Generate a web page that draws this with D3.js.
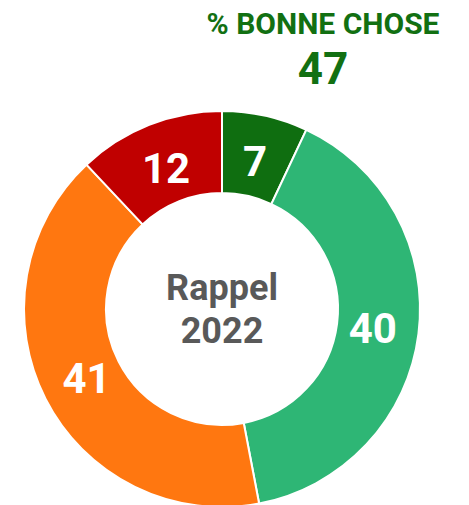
<!DOCTYPE html>
<html>
<head>
<meta charset="utf-8">
<script src="https://cdn.jsdelivr.net/npm/d3@7"></script>
<style>
  html, body { margin: 0; padding: 0; background: #fff; }
  svg { display: block; font-family: Roboto, "Noto Sans", sans-serif; }
</style>
</head>
<body>
<svg id="chart" width="469" height="505"></svg>
<script>
// slices clockwise from 12 o'clock
const categories = ['Très bonne chose', 'Plutôt bonne chose', 'Plutôt mauvaise chose', 'Très mauvaise chose']
const values = [7, 40, 41, 12]
const colors = ['#0f6e10', '#2eb675', '#ff7710', '#c00000']
const goodTotal = values[0] + values[1]

const width = 469
const height = 505
const cx = 222
const cy = 309
const outerR = 198
const innerR = 116

const svg = d3.select('#chart')

const pie = d3.pie().sort(null).value(d => d)
const arc = d3.arc().innerRadius(innerR).outerRadius(outerR)
const labelArc = d3.arc().innerRadius(152).outerRadius(152)

const g = svg.append('g').attr('transform', `translate(${cx},${cy})`)

const slices = pie(values)

g.selectAll('path.slice').data(slices).enter()
  .append('path')
  .classed('slice', true)
  .attr('d', arc)
  .attr('fill', (d, i) => colors[i])
  .attr('stroke', '#fff')
  .attr('stroke-width', 2)

g.selectAll('text.value').data(slices).enter()
  .append('text')
  .classed('value', true)
  .attr('transform', d => `translate(${labelArc.centroid(d)})`)
  .attr('text-anchor', 'middle')
  .attr('dy', '0.36em')
  .style('fill', '#fff')
  .style('font-weight', 700)
  .style('font-size', '42px')
  .text(d => d.data)

// centre text
g.append('text')
  .attr('text-anchor', 'middle')
  .attr('y', -9)
  .style('fill', '#595959')
  .style('font-weight', 700)
  .style('font-size', '36px')
  .text('Rappel')
g.append('text')
  .attr('text-anchor', 'middle')
  .attr('y', 34)
  .style('fill', '#595959')
  .style('font-weight', 700)
  .style('font-size', '36px')
  .text('2022')

// header
svg.append('text')
  .attr('x', 323)
  .attr('y', 34)
  .attr('text-anchor', 'middle')
  .style('fill', '#127012')
  .style('font-weight', 700)
  .style('font-size', '30px')
  .text('% BONNE CHOSE')
svg.append('text')
  .attr('x', 323)
  .attr('y', 84)
  .attr('text-anchor', 'middle')
  .style('fill', '#127012')
  .style('font-weight', 700)
  .style('font-size', '44px')
  .text(goodTotal)
</script>
</body>
</html>
